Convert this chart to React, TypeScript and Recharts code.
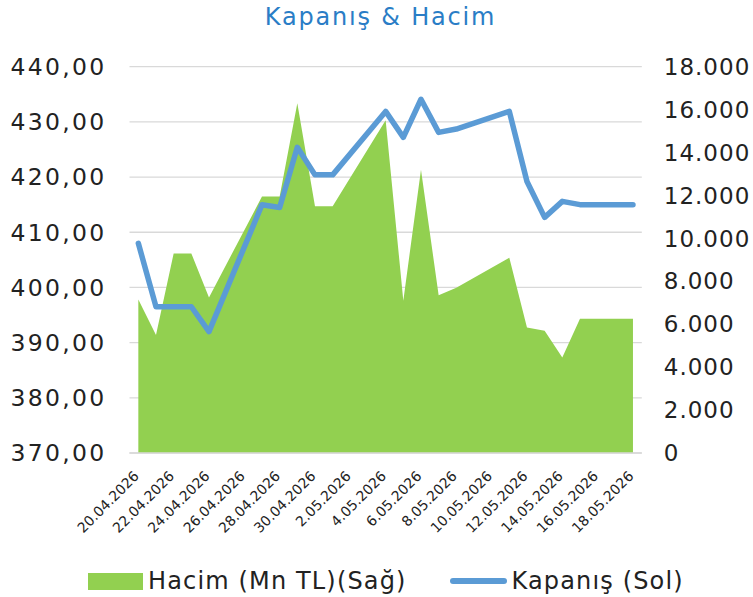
import React from "react";
import {
  Area,
  CartesianGrid,
  ComposedChart,
  Line,
  XAxis,
  YAxis,
} from "recharts";

// trading days only; weekends are bridged by the lines
const dates = [
  "20.04.2026", "21.04.2026", "22.04.2026", "23.04.2026", "24.04.2026",
  "27.04.2026", "28.04.2026", "29.04.2026", "30.04.2026", "1.05.2026",
  "4.05.2026", "5.05.2026", "6.05.2026", "7.05.2026", "8.05.2026",
  "11.05.2026", "12.05.2026", "13.05.2026", "14.05.2026", "15.05.2026",
  "18.05.2026",
];
const closeValues = [
  408.0, 396.5, 396.5, 396.5, 392.0,
  415.0, 414.5, 425.4, 420.4, 420.4,
  431.9, 427.2, 434.1, 428.1, 428.7,
  431.9, 419.2, 412.7, 415.6, 415.0,
  415.0,
];
const volumeValues = [
  7150, 5500, 9300, 9300, 7250,
  11950, 11950, 16300, 11500, 11500,
  15500, 7100, 13200, 7350, 7700,
  9100, 5850, 5700, 4450, 6250,
  6250,
];
const leftTicks = [370, 380, 390, 400, 410, 420, 430, 440];
const rightTicks = [0, 2000, 4000, 6000, 8000, 10000, 12000, 14000, 16000, 18000];

const DAY = 86400000;
const toDay = (s: string) => {
  const [d, m, y] = s.split(".").map(Number);
  return Math.round(Date.UTC(y, m - 1, d) / DAY);
};
const fmtDay = (n: number) => {
  const dt = new Date(n * DAY);
  const d = dt.getUTCDate();
  const m = String(dt.getUTCMonth() + 1).padStart(2, "0");
  return `${d}.${m}.${dt.getUTCFullYear()}`;
};

const data = dates.map((s, i) => ({
  t: toDay(s),
  close: closeValues[i],
  volume: volumeValues[i],
}));

const first = data[0].t;
const last = data[data.length - 1].t;
const labelTicks: number[] = [];
for (let t = first; t <= last; t += 2) labelTicks.push(t);
const markTicks = labelTicks.map((t) => t - 0.5);

const FONT = "'DejaVu Sans', sans-serif";
const TEXT = "#222222";

const DateTick = (props: any) => {
  const { x, y, payload } = props;
  const ex = x + 1.5;
  const ey = y + 16;
  return (
    <text
      x={ex}
      y={ey}
      transform={`rotate(-45 ${ex} ${ey})`}
      textAnchor="end"
      fontSize={14}
      fontFamily={FONT}
      fill={TEXT}
    >
      {fmtDay(payload.value)}
    </text>
  );
};

const NoTick = () => <g />;

export default function App() {
  return (
    <div
      style={{
        position: "absolute",
        left: 0,
        top: 0,
        width: 753,
        height: 597,
        background: "#fff",
        fontFamily: FONT,
      }}
    >
      <div
        style={{
          position: "absolute",
          top: 3,
          left: 4,
          width: 753,
          textAlign: "center",
          fontSize: 24,
          letterSpacing: 1.8,
          color: "#2A7DC6",
        }}
      >
        Kapanış &amp; Hacim
      </div>

      <ComposedChart
        width={753}
        height={597}
        data={data}
        margin={{ top: 66.7, right: 0, bottom: 60, left: 0 }}
      >
        <CartesianGrid
          yAxisId="left"
          vertical={false}
          stroke="#d9d9d9"
          strokeWidth={1.3}
        />
        <XAxis
          xAxisId="marks"
          dataKey="t"
          type="number"
          domain={[first - 0.5, last + 0.5]}
          ticks={markTicks}
          interval={0}
          tick={<NoTick />}
          tickLine={{ stroke: "#d9d9d9", strokeWidth: 1.3 }}
          tickSize={5}
          axisLine={false}
          height={0}
        />
        <XAxis
          dataKey="t"
          type="number"
          domain={[first - 0.5, last + 0.5]}
          ticks={labelTicks}
          interval={0}
          tick={<DateTick />}
          tickLine={false}
          axisLine={{ stroke: "#d9d9d9", strokeWidth: 1.3 }}
          height={84}
        />
        <YAxis
          yAxisId="left"
          orientation="left"
          domain={[370, 440]}
          ticks={leftTicks}
          width={129.5}
          axisLine={false}
          tickLine={false}
          tickSize={0}
          tickMargin={23}
          tick={{ fill: TEXT, fontSize: 23.5, fontFamily: FONT, letterSpacing: 2.3 }}
          tickFormatter={(v: number) => v.toFixed(2).replace(".", ",")}
        />
        <YAxis
          yAxisId="right"
          orientation="right"
          domain={[0, 18000]}
          ticks={rightTicks}
          width={111.2}
          axisLine={false}
          tickLine={false}
          tickSize={0}
          tickMargin={22}
          tick={{ fill: TEXT, fontSize: 23, fontFamily: FONT, letterSpacing: 1 }}
          tickFormatter={(v: number) =>
            v.toString().replace(/\B(?=(\d{3})+(?!\d))/g, ".")
          }
        />
        <Area
          yAxisId="right"
          dataKey="volume"
          type="linear"
          fill="#92D050"
          fillOpacity={1}
          stroke="none"
          isAnimationActive={false}
        />
        <Line
          yAxisId="left"
          dataKey="close"
          type="linear"
          stroke="#5B9BD5"
          strokeWidth={5.5}
          strokeLinejoin="round"
          strokeLinecap="round"
          dot={false}
          activeDot={false}
          isAnimationActive={false}
        />
      </ComposedChart>

      <div
        style={{
          position: "absolute",
          top: 567,
          left: 88,
          display: "flex",
          alignItems: "center",
          fontSize: 24,
          letterSpacing: 1.15,
          color: TEXT,
          whiteSpace: "nowrap",
        }}
      >
        <span
          style={{
            display: "inline-block",
            width: 55,
            height: 17,
            background: "#92D050",
            marginRight: 5,
          }}
        />
        <span>Hacim (Mn TL)(Sağ)</span>
        <span
          style={{
            display: "inline-block",
            width: 57,
            height: 6,
            borderRadius: 3,
            background: "#5B9BD5",
            marginLeft: 43,
            marginRight: 5,
          }}
        />
        <span>Kapanış (Sol)</span>
      </div>
    </div>
  );
}
